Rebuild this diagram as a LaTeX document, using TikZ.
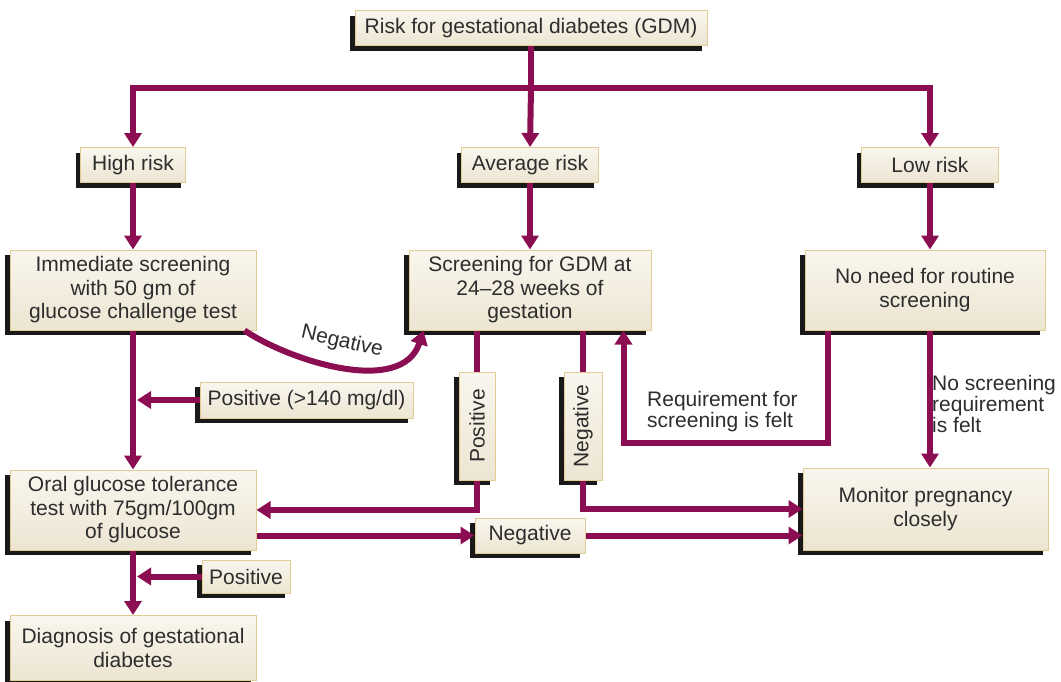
\documentclass[tikz,border=0pt]{standalone}
\usepackage{fontspec}
\setmainfont{Liberation Sans}
\usetikzlibrary{arrows.meta,shadows,calc}

\definecolor{flow}{RGB}{140,14,82}
\definecolor{boxtop}{RGB}{249,246,238}
\definecolor{boxbottom}{RGB}{237,229,210}
\definecolor{boxedge}{RGB}{224,204,148}
\definecolor{ink}{RGB}{45,45,45}

\tikzset{
  box/.style={draw=boxedge, line width=1pt, top color=boxtop, bottom color=boxbottom,
    drop shadow={shadow xshift=-5pt, shadow yshift=-5pt, fill=black!90, opacity=1},
    font=\fontsize{21}{23.5}\selectfont, text=ink, align=center, inner sep=0pt},
  lbl/.style={font=\fontsize{21}{21}\selectfont, text=ink, inner sep=0pt},
  conn/.style={draw=flow, line width=6pt},
  arr/.style={conn, -{Triangle[length=14pt,width=17pt]}}
}

\begin{document}
\begin{tikzpicture}[x=1pt,y=-1pt]
\useasboundingbox (0,0) rectangle (1061,681);

% boxes
\node[box, minimum width=352pt, minimum height=35pt] (risk) at (531,28) {Risk for gestational diabetes (GDM)};
\node[box, minimum width=105pt, minimum height=35pt] (high) at (133,165) {High risk};
\node[box, minimum width=137pt, minimum height=35pt] (avg) at (530,165) {Average risk};
\node[box, minimum width=137pt, minimum height=35pt] (low) at (930,165) {Low risk};

\node[box, minimum width=246pt, minimum height=80pt] (imm) at (133,290) {Immediate screening\\with 50 gm of\\glucose challenge test};
\node[box, minimum width=242pt, minimum height=80pt] (scr) at (530,290) {Screening for GDM at\\24--28 weeks of\\gestation};
\node[box, minimum width=240pt, minimum height=80pt] (noneed) at (925,290) {No need for routine\\screening};

\node[box, minimum width=213pt, minimum height=36pt] (pos140) at (306.5,400) {Positive (>140 mg/dl)};
\node[box, minimum width=36pt, minimum height=108pt] (posv) at (477,426) {\rotatebox{90}{Positive}};
\node[box, minimum width=38pt, minimum height=108pt] (negv) at (583,426) {\rotatebox{90}{Negative}};

\node[box, minimum width=246pt, minimum height=80pt] (oral) at (133,510) {Oral glucose tolerance\\test with 75gm/100gm\\of glucose};
\node[box, minimum width=110pt, minimum height=35pt] (negh) at (530,535.5) {Negative};
\node[box, minimum width=245pt, minimum height=82pt] (monitor) at (925.5,509) {Monitor pregnancy\\closely};

\node[box, minimum width=88pt, minimum height=33pt] (possm) at (246,576.5) {Positive};
\node[box, minimum width=246pt, minimum height=65pt] (diag) at (133,648) {Diagnosis of gestational\\diabetes};

% free labels
\node[lbl, rotate=-13] (neglbl) at (342,342) {Negative};
\node[lbl, anchor=west, align=left] (reqlbl) at (647,412) {Requirement for\\screening is felt};
\node[lbl, anchor=west, align=left] (nolbl) at (932,404) {No screening\\requirement\\is felt};

% risk split
\draw[conn] (risk.south) -- (531,88) coordinate (split);
\draw[arr] (split) -| (high.north);
\draw[arr] (split) -- (avg.north);
\draw[arr] (split) -| (low.north);

% risk groups to their screening
\draw[arr] (high.south) -- (imm.north);
\draw[arr] (avg.south) -- (scr.north);
\draw[arr] (low.south) -- (low.south |- noneed.north);

% high-risk path
\draw[arr] (imm.south) -- (oral.north);
\draw[arr] (pos140.west) -- ($(imm.south |- pos140.west)+(4,0)$);
\draw[arr] ([xshift=-12pt]imm.south east) .. controls (292,362) and (402,396) .. ([xshift=15pt]scr.south west);

% average-risk results
\draw[conn] (posv.north |- scr.south) -- (posv.north);
\draw[arr] (posv.south) |- (oral.east);
\draw[conn] (negv.north |- scr.south) -- (negv.north);
\draw[arr] (negv.south) |- (monitor.west);

% glucose tolerance results
\draw[arr] (oral.east |- negh.west) -- (negh.west);
\draw[arr] (negh.east) -- (negh.east -| monitor.west);
\draw[arr] (oral.south) -- (diag.north);
\draw[arr] (possm.west) -- ($(oral.south |- possm.west)+(4,0)$);

% low-risk outcomes
\draw[arr] ([xshift=-97pt]noneed.south) -- ++(0,112) -| ([xshift=-28pt]scr.south east);
\draw[arr] (low.south |- noneed.south) -- (low.south |- monitor.north);
\end{tikzpicture}
\end{document}
